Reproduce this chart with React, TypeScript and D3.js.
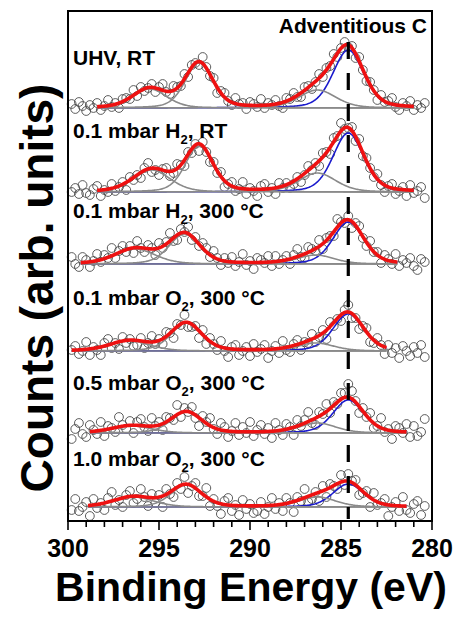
import React from 'react';
import * as d3 from 'd3';

// ---------- data ----------
const E_START = 299.8; // eV, first sample
const E_STEP = 0.2; // eV, instrument step
const X_TICKS = [300, 295, 290, 285, 280];
const ADV_C = 284.6;

const LABELS = [
  ['UHV, RT'],
  ['0.1 mbar H', '2', ', RT'],
  ['0.1 mbar H', '2', ', 300 °C'],
  ['0.1 mbar O', '2', ', 300 °C'],
  ['0.5 mbar O', '2', ', 300 °C'],
  ['1.0 mbar O', '2', ', 300 °C'],
];

// vertical offsets of the stacked spectra (arb. units)
const OFFSETS = [413, 329, 257, 170, 88, 14];

// measured counts above each spectrum's background (arb. units), 299.8 -> 280.4 eV
const S1 = [4,-1,6,2,-3,3,0,5,-2,2,8,1,5,0,9,10,9,18,12,21,17,20,24,16,21,24,16,14,22,21,22,34,31,43,45,43,51,41,32,30,15,17,15,7,3,10,4,5,-1,6,4,1,9,0,5,3,8,2,0,10,9,15,11,11,21,22,19,26,34,31,40,42,54,51,60,66,61,62,50,51,38,27,26,18,8,13,6,7,10,1,-2,5,2,7,-2,3,0,5];
const S2 = [0,4,-2,7,-1,-3,3,6,-4,2,0,8,1,5,10,2,15,12,17,14,24,29,20,22,17,23,24,16,19,28,27,26,40,39,48,41,50,40,30,30,19,20,5,8,10,1,3,10,-2,4,1,-4,6,8,0,4,-2,9,4,9,4,8,15,10,17,26,22,29,26,39,40,38,54,56,69,63,64,65,51,53,36,34,24,15,18,7,0,6,8,-2,1,5,-4,7,-1,1,5,-6];
const S3 = [7,0,-3,7,4,-3,3,10,2,9,6,16,6,13,18,12,18,11,23,16,12,19,16,9,21,16,22,31,23,24,35,32,37,24,27,18,21,16,7,13,6,-1,6,1,7,-2,2,10,-1,3,-5,6,4,1,8,-2,8,0,4,8,0,9,15,7,6,17,15,13,24,15,26,28,28,45,42,41,48,36,41,38,26,18,23,12,12,1,9,5,0,10,-2,4,1,6,-2,-6,5,2];
const S4 = [1,5,-3,0,9,-4,4,1,-4,8,12,3,8,2,14,8,12,5,6,13,3,8,15,7,12,7,19,18,13,27,26,36,24,24,25,13,21,7,13,7,1,10,0,-6,4,6,-4,0,4,-5,7,-1,2,6,-7,0,5,-2,10,1,-1,7,11,1,9,8,17,9,14,21,12,29,25,32,30,41,46,33,33,22,25,23,9,8,13,6,-3,6,-2,3,-7,5,0,-5,4,-2,6,-6];
const S5 = [-6,4,10,-1,-4,8,3,-1,11,-3,7,5,1,16,8,4,12,0,11,14,6,2,15,7,11,3,16,15,13,28,16,25,21,26,15,7,17,11,15,4,-1,10,6,-4,2,10,-2,6,0,11,-3,3,8,-1,5,-5,10,3,-2,9,6,-2,13,7,13,21,10,8,21,19,29,20,31,29,40,40,49,42,32,20,25,16,20,5,7,15,1,4,-6,7,5,0,9,-4,7,-3,1,14];
const S6 = [-3,8,-4,0,5,-9,8,-1,4,-3,9,15,2,7,0,12,16,4,8,18,10,1,13,4,12,0,18,13,10,24,18,30,14,21,24,11,11,19,1,8,1,-7,6,9,-4,2,-8,7,-2,3,-6,-4,5,-7,0,9,-2,4,-4,9,4,-5,10,6,18,5,8,15,6,21,10,23,21,18,32,22,33,26,27,12,14,16,0,14,2,4,8,-9,0,5,-4,10,-3,-6,3,6,-8,1];
const SPECTRA = [S1, S2, S3, S4, S5, S6];

// fitted components: [center eV, height, FWHM eV]
const MAIN_C = [[284.6, 58, 2.0], [284.6, 59, 2.0], [284.6, 42, 2.0], [284.6, 37, 2.0], [284.6, 33, 2.0], [284.6, 23, 2.0]];
const SHOULDER = [[286.3, 18, 2.4], [286.3, 19, 2.4], [286.4, 9, 2.4], [286.4, 8, 2.4], [286.3, 10, 2.4], [286.3, 10, 2.4]];
const PEAK_B = [[292.8, 45, 1.8], [292.8, 46, 1.8], [293.6, 30, 2.0], [293.5, 28, 2.0], [293.5, 21, 2.0], [293.5, 22, 2.0]];
const PEAK_C = [[295.5, 19, 2.2], [295.4, 22, 2.4], [296.3, 15, 2.6], [296.6, 10, 2.6], [296.5, 7, 2.6], [296.4, 10, 2.6]];
const FIT_RANGE = [[298.4, 281.0], [298.4, 281.0], [299.3, 281.9], [299.8, 282.5], [298.8, 281.4], [298.9, 281.4]];

// ---------- layout ----------
const W = 458, H = 625;
const L = 68, R = 432, T = 11, B = 521;
const LABEL_Y = [65, 138, 218, 305, 390, 466];
const FONT = 'Arial, "Liberation Sans", Helvetica, sans-serif';

function pv(e: number, comp: number[]) {
  const [c, h, w] = comp;
  const t = (e - c) / w;
  return h * (0.7 * Math.exp(-4 * Math.LN2 * t * t) + 0.3 / (1 + 4 * t * t));
}

export default function App() {
  const x = d3.scaleLinear().domain([300, 280]).range([L, R]);
  const y = d3.scaleLinear().domain([0, B - T]).range([B, T]);
  const energies = d3.range(SPECTRA[0].length).map((i) => E_START - i * E_STEP);
  const line = d3.line<[number, number]>().x((d) => x(d[0])).y((d) => y(d[1]));

  const minor = d3.range(300, 279.5, -1);

  return (
    <svg width={W} height={H} style={{ position: 'absolute', left: 0, top: 0, background: '#fff' }} fontFamily={FONT}>
      <rect x={0} y={0} width={W} height={H} fill="#fff" />
      {SPECTRA.map((s, k) => {
        const off = OFFSETS[k];
        const [hi, lo] = FIT_RANGE[k];
        const es = d3.range(hi, lo - 0.001, -0.05);
        const comps = [SHOULDER[k], PEAK_B[k], PEAK_C[k]];
        const blue = line(es.map((e) => [e, off + pv(e, MAIN_C[k])]));
        const grays = comps.map((c) => line(es.map((e) => [e, off + pv(e, c)])));
        const red = line(es.map((e) => [e, off + pv(e, MAIN_C[k]) + comps.reduce((a, c) => a + pv(e, c), 0)]));
        return (
          <g key={k}>
            {s.map((v, i) => (
              <circle key={i} cx={x(energies[i])} cy={y(off + v)} r={4.4} fill="none" stroke="#4a4a4a" strokeWidth={0.9} />
            ))}
            <path d={blue || ''} fill="none" stroke="#1a1acc" strokeWidth={1.6} />
            {grays.map((g, j) => (
              <path key={j} d={g || ''} fill="none" stroke="#8a8a8a" strokeWidth={1.6} />
            ))}
            <path d={red || ''} fill="none" stroke="#ee1111" strokeWidth={3.6} strokeLinejoin="round" />
            <text x={73} y={LABEL_Y[k]} fontSize={21} fontWeight="bold" fill="#000">
              {LABELS[k][0]}
              {LABELS[k].length > 1 && (
                <>
                  <tspan fontSize={13} dy={6}>{LABELS[k][1]}</tspan>
                  <tspan dy={-6}>{LABELS[k][2]}</tspan>
                </>
              )}
            </text>
          </g>
        );
      })}
      <line x1={x(ADV_C)} x2={x(ADV_C)} y1={42} y2={B - 2} stroke="#000" strokeWidth={3.2} strokeDasharray="17,14" />
      <text x={427} y={33} fontSize={21} fontWeight="bold" textAnchor="end" fill="#000">Adventitious C</text>
      <rect x={L} y={T} width={R - L} height={B - T} fill="none" stroke="#000" strokeWidth={2} />
      {minor.map((t) => (
        <line key={t} x1={x(t)} x2={x(t)} y1={B} y2={B + (t % 5 === 0 ? 9 : 6)} stroke="#000" strokeWidth={1.6} />
      ))}
      {X_TICKS.map((t) => (
        <text key={t} x={x(t)} y={557} fontSize={25} fontWeight="bold" textAnchor="middle" fill="#000">{t}</text>
      ))}
      <text x={251} y={601} fontSize={41} fontWeight="bold" textAnchor="middle" fill="#000">Binding Energy (eV)</text>
      <text transform="translate(53,288) rotate(-90)" fontSize={46} fontWeight="bold" textAnchor="middle" fill="#000">Counts (arb. units)</text>
    </svg>
  );
}
